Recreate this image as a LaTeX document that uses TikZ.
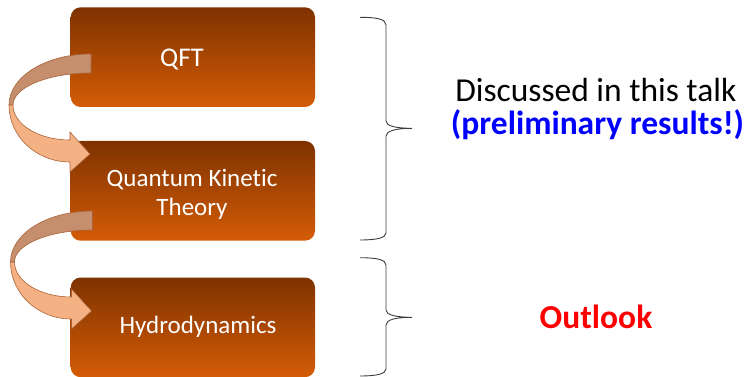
\documentclass[tikz,border=0pt]{standalone}
\usepackage{fontspec}
\setmainfont{Carlito}[Ligatures=NoCommon]
\definecolor{boxtop}{RGB}{126,50,0}
\definecolor{boxbot}{RGB}{212,92,6}
\definecolor{arrdark}{RGB}{197,142,108}
\definecolor{arrlight}{RGB}{244,177,131}
\definecolor{arredge}{RGB}{170,100,60}
\definecolor{bracecol}{RGB}{60,60,60}
\tikzset{
  stagebox/.style={rectangle, rounded corners=10pt, minimum width=244.3pt, minimum height=99.7pt,
    inner sep=0pt, top color=boxtop, bottom color=boxbot, draw=none},
  boxtext/.style={text=white, font=\fontsize{25}{29}\selectfont, inner sep=0pt},
  bigtext/.style={font=\fontsize{33.5}{38}\selectfont, inner sep=0pt},
  bracestyle/.style={draw=bracecol, line width=0.9pt},
  curvarrow/.pic={
    \filldraw[fill=arrdark, draw=arredge, line width=0.6pt]
      (91,54) .. controls (45.7,54) and (9,76.8) .. (9,105)
      -- (13,105) .. controls (13,87.3) and (48,73) .. (91,73) -- cycle;
    \filldraw[fill=arrlight, draw=arredge, line width=0.6pt]
      (9,105) .. controls (9,136.5) and (36.3,162) .. (70,162)
      -- (70,172) -- (90,154) -- (70,132) -- (70,140)
      .. controls (38.5,140) and (13,124.3) .. (13,105) -- cycle;
  }
}
\begin{document}
\begin{tikzpicture}[x=1pt,y=-1pt]
\useasboundingbox (0,0) rectangle (745,377);
% boxes
\node[stagebox] (b1) at (192.85,57.15) {};
\node[stagebox] (b2) at (192.85,190.85) {};
\node[stagebox] (b3) at (192.85,327.35) {};
% box texts
\node[boxtext, anchor=base, font=\fontsize{27}{31}\selectfont] (t1) at (182,67) {QFT};
\node[boxtext, align=center] (t2) at (192,194.5) {Quantum Kinetic\\Theory};
\node[boxtext, anchor=base] (t3) at (198,333.3) {Hydrodynamics};
% curved arrows
\pic (a1) at (0,0) {curvarrow};
\pic (a2) at (1.5,157) {curvarrow};
% braces
\coordinate (br1t) at (360,17.3);
\coordinate (br1m) at (412,128.3);
\coordinate (br1b) at (360,240);
\draw[bracestyle] (br1t) .. controls (376,17.3) and (386,19) .. (386,25) -- (386,121)
  .. controls (386,126) and (396,128.3) .. (br1m)
  .. controls (396,128.3) and (386,131) .. (386,136) -- (386,233)
  .. controls (386,238) and (376,240) .. (br1b);
\coordinate (br2t) at (360,257.7);
\coordinate (br2m) at (412,317.3);
\coordinate (br2b) at (360,376);
\draw[bracestyle] (br2t) .. controls (376,257.7) and (386,259.5) .. (386,265) -- (386,310)
  .. controls (386,315) and (396,317.3) .. (br2m)
  .. controls (396,317.3) and (386,319.6) .. (386,325) -- (386,369)
  .. controls (386,374) and (376,376) .. (br2b);
% right texts
\node[bigtext, anchor=base] (d1) at (595.8,101.7) {Discussed in this talk};
\node[bigtext, anchor=base, text={rgb,255:red,0;green,0;blue,255}, font=\fontsize{33.5}{38}\selectfont\bfseries] (d2) at (597.5,135) {(preliminary results!)};
\node[bigtext, anchor=base, text={rgb,255:red,255;green,0;blue,0}, font=\fontsize{33.5}{38}\selectfont\bfseries] (o1) at (596,328.3) {Outlook};
\end{tikzpicture}
\end{document}
